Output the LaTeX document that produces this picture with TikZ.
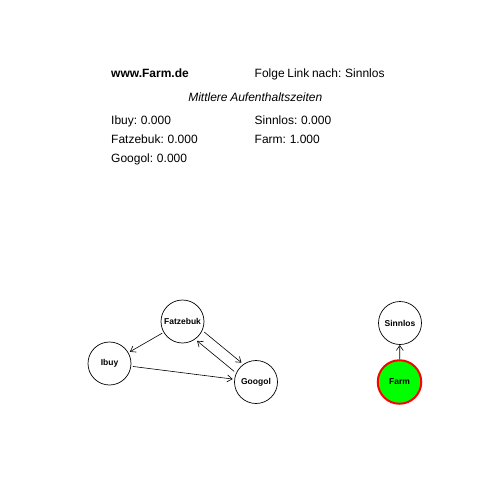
\documentclass[tikz,border=0pt]{standalone}
\usepackage{fontspec}
\setmainfont[WordSpace=0.8]{Liberation Sans}
\usetikzlibrary{arrows.meta}
\tikzset{
  pg/.style={circle, draw=black, line width=0.7pt, minimum size=43pt, inner sep=0pt, outer sep=2pt,
    font=\fontsize{8.5}{10}\selectfont\bfseries},
  farmnode/.style={pg, fill={rgb,255:red,0;green,255;blue,0}, draw={rgb,255:red,255;green,0;blue,0}, line width=2pt, minimum size=43.5pt, outer sep=1pt},
  link/.style={line width=0.6pt, -{Straight Barb[length=5pt,width=7pt]}},
  txt/.style={anchor=base west, inner sep=0pt, font=\fontsize{12}{14}\selectfont},
}
\begin{document}
\begin{tikzpicture}[x=1pt,y=-1pt]
\useasboundingbox (0,0) rectangle (480,480);
\fill[white] (0,0) rectangle (480,480);
% texts
\node[txt, font=\fontsize{12}{14}\selectfont\bfseries] (t1) at (111,77) {www.Farm.de};
\node[txt] (t2) at (254.5,77) {Folge Link nach: Sinnlos};
\node[anchor=base, inner sep=0pt, font=\fontsize{12}{14}\selectfont\itshape] (t3) at (255.3,101.5) {Mittlere Aufenthaltszeiten};
\node[txt] (t4) at (111,124.5) {Ibuy: 0.000};
\node[txt] (t5) at (254.5,124.5) {Sinnlos: 0.000};
\node[txt] (t6) at (111,143.5) {Fatzebuk: 0.000};
\node[txt] (t7) at (254.5,143.5) {Farm: 1.000};
\node[txt] (t8) at (111,162.5) {Googol: 0.000};
% graph
\node[pg] (f) at (182.5,321.5) {Fatzebuk};
\node[pg] (i) at (109.5,363.5) {Ibuy};
\node[pg] (g) at (256,382) {Googol};
\node[pg, outer sep=0.5pt] (s) at (400,323) {Sinnlos};
\node[farmnode] (fa) at (399.5,382) {Farm};
\draw[link] (f) -- (i);
\draw[link] (i) -- (g);
\draw[link, transform canvas={shift={(3.6pt,4.4pt)}}] (f) -- (g);
\draw[link, transform canvas={shift={(-3.6pt,-4.4pt)}}] (g) -- (f);
\draw[link] (fa) -- (s);
\end{tikzpicture}
\end{document}
